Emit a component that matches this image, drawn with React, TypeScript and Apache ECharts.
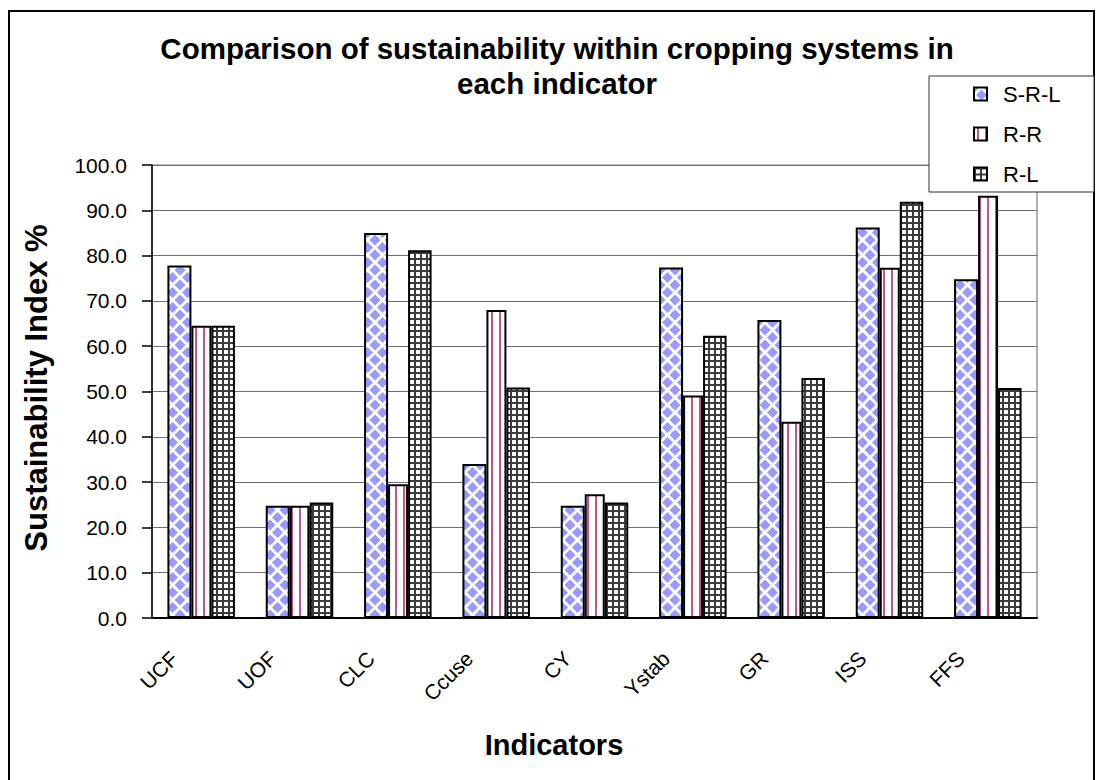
import React, { useEffect, useRef } from "react";
import * as echarts from "echarts";

// Indicators on the category axis
const categories = ["UCF", "UOF", "CLC", "Ccuse", "CY", "Ystab", "GR", "ISS", "FFS"];
// Cropping systems
const seriesNames = ["S-R-L", "R-R", "R-L"];
// Sustainability index (%) per indicator for each cropping system
const srlValues = [77.8, 24.8, 85.0, 34.0, 24.8, 77.4, 65.8, 86.2, 74.8];
const rrValues = [64.5, 24.8, 29.5, 68.0, 27.3, 49.1, 43.3, 77.3, 93.2];
const rlValues = [64.5, 25.5, 81.2, 50.9, 25.5, 62.3, 53.0, 91.9, 50.8];
// Value axis range
const yMin = 0;
const yMax = 100;
const yStep = 10;

const FONT = '"Liberation Sans", Arial, sans-serif';

type Draw = (ctx: CanvasRenderingContext2D, w: number, h: number) => void;

function makeTile(w: number, h: number, draw: Draw) {
  const c = document.createElement("canvas");
  c.width = w;
  c.height = h;
  const ctx = c.getContext("2d") as CanvasRenderingContext2D;
  ctx.fillStyle = "#ffffff";
  ctx.fillRect(0, 0, w, h);
  draw(ctx, w, h);
  return { image: c.toDataURL(), repeat: "repeat", imageWidth: w, imageHeight: h };
}

function diamond(ctx: CanvasRenderingContext2D, cx: number, cy: number, r: number) {
  ctx.beginPath();
  ctx.moveTo(cx, cy - r);
  ctx.lineTo(cx + r, cy);
  ctx.lineTo(cx, cy + r);
  ctx.lineTo(cx - r, cy);
  ctx.closePath();
  ctx.fill();
}

export default function App() {
  const ref = useRef<HTMLDivElement>(null);

  useEffect(() => {
    if (!ref.current) return;
    const chart = echarts.init(ref.current, undefined, { renderer: "svg" });

    // Fill patterns for the three systems
    const diamondFill = makeTile(15, 15, (ctx) => {
      ctx.fillStyle = "#9999ff";
      diamond(ctx, 7.5, 7.5, 5.5);
      [[0, 0], [15, 0], [0, 15], [15, 15]].forEach(([x, y]) => diamond(ctx, x, y, 5.5));
    });
    const stripeFill = makeTile(8, 8, (ctx) => {
      ctx.fillStyle = "#b85a8c";
      ctx.fillRect(3, 0, 2, 8);
    });
    const gridFill = makeTile(6, 6, (ctx) => {
      ctx.fillStyle = "#3c3c3c";
      ctx.fillRect(0, 0, 6, 2);
      ctx.fillRect(0, 0, 2, 6);
    });

    const fills = [diamondFill, stripeFill, gridFill];
    const values = [srlValues, rrValues, rlValues];
    const widths = [24, 20, 23.5];

    chart.setOption({
      animation: false,
      backgroundColor: "#ffffff",
      title: {
        text: "Comparison of sustainability within cropping systems in\neach indicator",
        left: 557,
        top: 31,
        padding: 0,
        textAlign: "center",
        textStyle: {
          fontFamily: FONT,
          fontSize: 29.5,
          fontWeight: "bold",
          lineHeight: 35,
          color: "#000",
        },
      },
      legend: {
        data: seriesNames,
        orient: "vertical",
        left: 973,
        top: 83,
        padding: 0,
        z: 10,
        itemWidth: 13,
        itemHeight: 13,
        itemGap: 18,
        icon: "rect",
        textStyle: {
          fontFamily: FONT,
          fontSize: 22,
          lineHeight: 20,
          color: "#000",
          padding: [0, 0, 0, 11],
        },
      },
      grid: {
        left: 152,
        right: 64,
        top: 165,
        bottom: 162,
        show: true,
        borderColor: "#808080",
        borderWidth: 1.2,
      },
      xAxis: {
        type: "category",
        data: categories,
        axisLine: { lineStyle: { color: "#000", width: 2 } },
        axisTick: { length: 7, lineStyle: { color: "#000", width: 1.5 } },
        axisLabel: {
          interval: 0,
          rotate: 45,
          margin: 10,
          padding: [0, 38, 0, 0],
          fontFamily: FONT,
          fontSize: 21,
          color: "#000",
        },
      },
      yAxis: {
        type: "value",
        min: yMin,
        max: yMax,
        interval: yStep,
        axisLine: { show: true, lineStyle: { color: "#000", width: 1.5 } },
        axisTick: { show: true, length: 10, lineStyle: { color: "#000", width: 1.5 } },
        axisLabel: {
          margin: 25,
          fontFamily: FONT,
          fontSize: 21,
          color: "#000",
          formatter: (v: number) => v.toFixed(1),
        },
        splitLine: { lineStyle: { color: "#707070", width: 1.2 } },
      },
      series: seriesNames.map((name, i) => ({
        name,
        type: "bar",
        data: values[i],
        barWidth: widths[i],
        barGap: "0%",
        itemStyle: {
          color: fills[i],
          borderColor: "#000",
          borderWidth: 2,
        },
      })),
      graphic: [
        {
          type: "rect",
          z: 0,
          silent: true,
          shape: { x: 9, y: 11, width: 1085, height: 800 },
          style: { fill: "none", stroke: "#000", lineWidth: 2 },
        },
        {
          type: "rect",
          z: 9,
          silent: true,
          shape: { x: 929, y: 76, width: 165, height: 116 },
          style: { fill: "#fff", stroke: "#333", lineWidth: 1 },
        },
        {
          type: "text",
          z: 9,
          x: 36,
          y: 388,
          rotation: Math.PI / 2,
          style: {
            text: "Sustainability Index %",
            fontFamily: FONT,
            fontSize: 31,
            fontWeight: "bold",
            fill: "#000",
            align: "center",
            verticalAlign: "middle",
          },
        },
        {
          type: "text",
          z: 9,
          x: 554,
          y: 745,
          style: {
            text: "Indicators",
            fontFamily: FONT,
            fontSize: 29,
            fontWeight: "bold",
            fill: "#000",
            align: "center",
            verticalAlign: "middle",
          },
        },
      ],
    });

    return () => chart.dispose();
  }, []);

  return (
    <div
      ref={ref}
      style={{ position: "fixed", left: 0, top: 0, width: 1101, height: 780 }}
    />
  );
}
